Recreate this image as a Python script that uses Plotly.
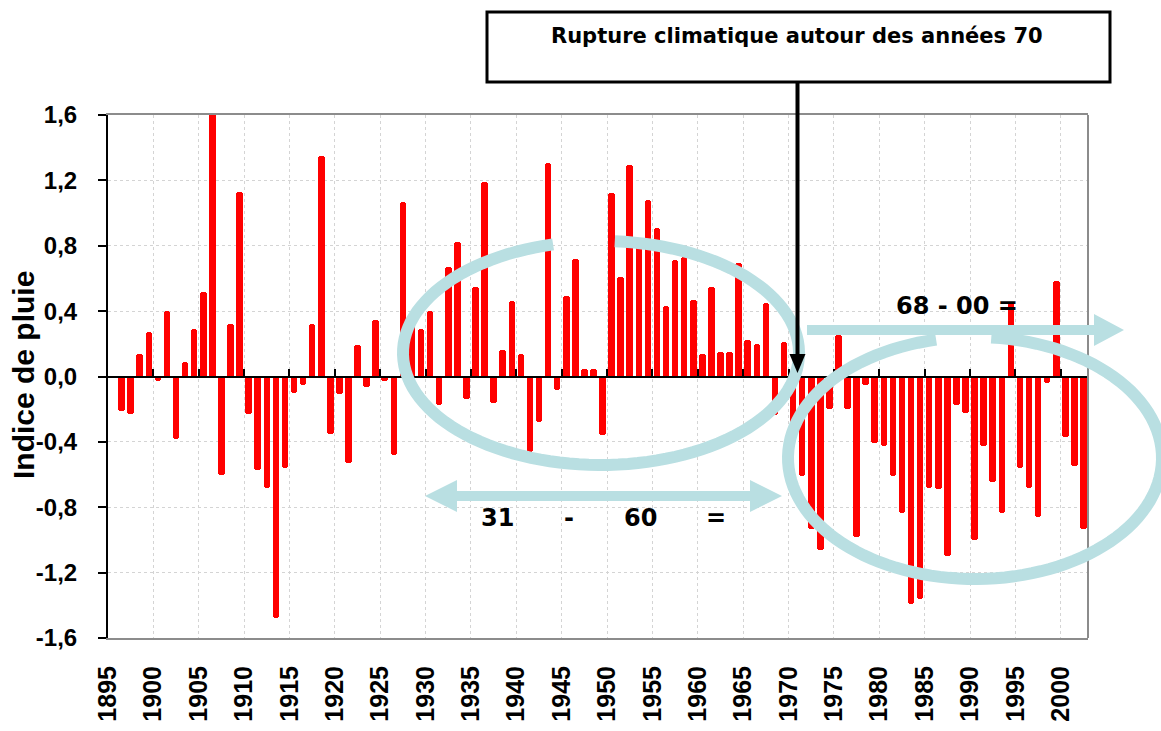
import math
import plotly.graph_objects as go

# ---------------- data ----------------
years = list(range(1896, 2003))
indice = [
    -0.21, -0.23, 0.14, 0.27,                                            # 1896-1899
    -0.03, 0.40, -0.38, 0.09, 0.29, 0.52, 1.62, -0.60, 0.32, 1.13,       # 1900-1909
    -0.23, -0.57, -0.68, -1.48, -0.56, -0.10, -0.055, 0.32, 1.35, -0.35, # 1910-1919
    -0.11, -0.53, 0.19, -0.065, 0.345, -0.03, -0.48, 1.065, 0.39, 0.29,  # 1920-1929
    0.40, -0.175, 0.67, 0.825, -0.14, 0.55, 1.19, -0.165, 0.165, 0.465,  # 1930-1939
    0.137, -0.46, -0.28, 1.305, -0.08, 0.49, 0.72, 0.046, 0.046, -0.355, # 1940-1949
    1.125, 0.61, 1.295, 0.85, 1.08, 0.91, 0.43, 0.71, 0.73, 0.467,       # 1950-1959
    0.137, 0.55, 0.15, 0.15, 0.695, 0.225, 0.20, 0.45, -0.235, 0.21,     # 1960-1969
    -0.30, -0.61, -0.93, -1.06, -0.196, 0.257, -0.20, -0.98, -0.055, -0.406,  # 1970-1979
    -0.427, -0.61, -0.834, -1.39, -1.364, -0.682, -0.69, -1.10, -0.175, -0.223, # 1980-1989
    -1.00, -0.427, -0.644, -0.834, 0.457, -0.56, -0.682, -0.86, -0.042, 0.583,  # 1990-1999
    -0.37, -0.55, -0.935,                                                # 2000-2002
]
x_tick_years = list(range(1895, 2001, 5))
x_tick_text = [str(y) for y in x_tick_years]
y_tick_vals = [1.6, 1.2, 0.8, 0.4, 0.0, -0.4, -0.8, -1.2, -1.6]
y_tick_text = ["1,6", "1,2", "0,8", "0,4", "0,0", "-0,4", "-0,8", "-1,2", "-1,6"]

title_box_text = "Rupture climatique autour des années 70"
y_title = "Indice de pluie"
period1_text = ["31", "-", "60", "="]
period2_text = "68 - 00 ="

# ---------------- geometry helpers (pixels -> paper) ----------------
FW, FH = 1161, 731
ML, MR, MT, MB = 108, 73, 115, 93
PW = FW - ML - MR
PH = FH - MT - MB
BOTTOM = FH - MB


def px(x):
    return (x - ML) / PW


def py(y):
    return (BOTTOM - y) / PH


def poly_path(points, close=True):
    s = "M " + " L ".join(f"{px(a):.5f},{py(b):.5f}" for a, b in points)
    return s + (" Z" if close else "")


def arc_path(cx, cy, rx, ry, t0, t1, n=120):
    pts = []
    for i in range(n + 1):
        t = math.radians(t0 + (t1 - t0) * i / n)
        pts.append((cx + rx * math.cos(t), cy - ry * math.sin(t)))
    return poly_path(pts, close=False)


LIGHT = "#B9DFE2"
BOLD_SANS = "Liberation Sans"
VERD = "DejaVu Sans"

fig = go.Figure()
fig.add_trace(go.Bar(
    x=years, y=indice, width=0.72, cliponaxis=False,
    marker=dict(color="#FF0000", line_width=0, cornerradius=3),
    hoverinfo="x+y", showlegend=False,
))
# helper trace so the zero-line axis (x2) is drawn
fig.add_trace(go.Scatter(x=[years[0]], y=[0], xaxis="x2", mode="markers",
                         marker=dict(opacity=0), showlegend=False, hoverinfo="skip"))

boundaries = [y - 0.5 for y in x_tick_years]
xr = [years[0] - 1.5, years[-1] + 0.5]

shapes = []
shapes.append(dict(type="line", xref="paper", yref="paper", x0=1, x1=1, y0=0, y1=1,
                   line=dict(color="#8c8c8c", width=2)))
shapes.append(dict(type="path", xref="paper", yref="paper",
                   path=arc_path(601, 353, 198, 112, 104, 446),
                   line=dict(color=LIGHT, width=12)))
shapes.append(dict(type="path", xref="paper", yref="paper",
                   path=arc_path(975, 458, 187, 121, 102, 445),
                   line=dict(color=LIGHT, width=12)))
shapes.append(dict(type="path", xref="paper", yref="paper", fillcolor=LIGHT, line=dict(width=0),
                   path=poly_path([(425, 496), (457, 480), (457, 491), (750, 491), (750, 480),
                                   (782, 496), (750, 512), (750, 501), (457, 501), (457, 512)])))
shapes.append(dict(type="path", xref="paper", yref="paper", fillcolor=LIGHT, line=dict(width=0),
                   path=poly_path([(807, 325), (1094, 325), (1094, 314), (1124, 330),
                                   (1094, 346), (1094, 335), (807, 335)])))
shapes.append(dict(type="rect", xref="paper", yref="paper",
                   x0=px(487), x1=px(1110), y0=py(82), y1=py(12),
                   line=dict(color="black", width=3), fillcolor="white"))
shapes.append(dict(type="line", xref="paper", yref="paper",
                   x0=px(797.5), x1=px(797.5), y0=py(82), y1=py(358),
                   line=dict(color="black", width=4)))
shapes.append(dict(type="path", xref="paper", yref="paper", fillcolor="black", line=dict(width=0),
                   path=poly_path([(789.5, 354), (805.5, 354), (797.5, 373)])))

annotations = []
annotations.append(dict(xref="paper", yref="paper", x=px(797), y=py(36), text=title_box_text,
                        showarrow=False, xanchor="center", yanchor="middle",
                        font=dict(family=VERD, size=21, color="black", weight="bold")))
annotations.append(dict(xref="paper", yref="paper", x=px(23), y=py(375), text=y_title,
                        textangle=-90, showarrow=False, xanchor="center", yanchor="middle",
                        font=dict(family=BOLD_SANS, size=30, color="black", weight="bold")))
for t, xp in zip(period1_text, [497, 569, 640, 716]):
    annotations.append(dict(xref="paper", yref="paper", x=px(xp), y=py(518), text=t,
                            showarrow=False, xanchor="center", yanchor="middle",
                            font=dict(family=VERD, size=24, color="black", weight="bold")))
annotations.append(dict(xref="paper", yref="paper", x=px(957), y=py(306), text=period2_text,
                        showarrow=False, xanchor="center", yanchor="middle",
                        font=dict(family=VERD, size=24, color="black", weight="bold")))

fig.update_layout(
    width=FW, height=FH,
    margin=dict(l=ML, r=MR, t=MT, b=MB, pad=0, autoexpand=False),
    paper_bgcolor="white", plot_bgcolor="white",
    bargap=0, showlegend=False,
    xaxis=dict(range=xr, tickmode="array", tickvals=boundaries, ticktext=x_tick_text,
               tickangle=-90, ticks="", ticklabelstandoff=16, automargin=False,
               tickfont=dict(family=BOLD_SANS, size=25, color="black", weight="bold"),
               showgrid=True, gridcolor="#d4d4d4", griddash="dot", gridwidth=1,
               showline=True, linecolor="#8c8c8c", linewidth=2, mirror=True, zeroline=False),
    xaxis2=dict(range=xr, overlaying="x", anchor="free", position=0.5, side="bottom",
                tickmode="array", tickvals=boundaries, showticklabels=False, automargin=False,
                ticks="inside", ticklen=7, tickwidth=1.5, tickcolor="black",
                showline=True, linecolor="black", linewidth=2,
                showgrid=False, zeroline=False),
    yaxis=dict(range=[-1.6, 1.6], tickmode="array", tickvals=y_tick_vals, ticktext=y_tick_text,
               ticks="outside", ticklen=8, tickwidth=1.5, tickcolor="black", ticklabelstandoff=16,
               automargin=False,
               tickfont=dict(family=BOLD_SANS, size=24, color="black", weight="bold"),
               showgrid=True, gridcolor="#d4d4d4", griddash="dot", gridwidth=1,
               showline=True, linecolor="black", linewidth=2, zeroline=False),
    shapes=shapes,
    annotations=annotations,
)

fig.write_html("out.html", config={"displayModeBar": False},
               post_script="document.body.style.margin='0';document.body.style.overflow='hidden';")
